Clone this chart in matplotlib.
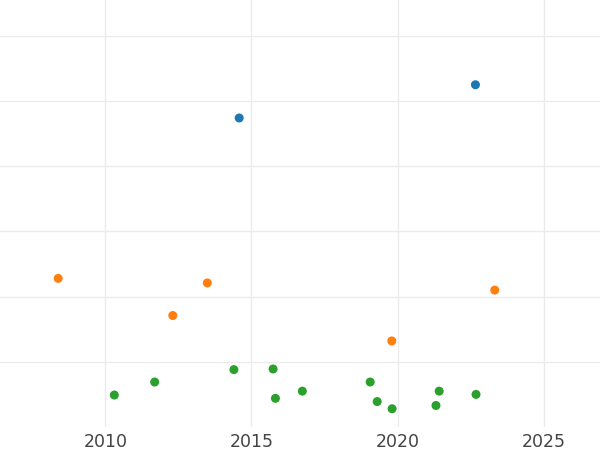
import matplotlib

matplotlib.use("Agg")
import matplotlib.pyplot as plt

# values (y has no labels, units = one gridline step)
blue_x = [2014.58, 2022.66]
blue_y = [4.74, 5.25]

orange_x = [2008.39, 2013.49, 2012.31, 2019.80, 2023.32]
orange_y = [2.28, 2.21, 1.71, 1.32, 2.10]

green_x = [2010.31, 2011.69, 2014.40, 2015.74, 2015.82, 2016.74,
           2019.06, 2019.30, 2019.81, 2021.31, 2021.42, 2022.68]
green_y = [0.49, 0.69, 0.88, 0.89, 0.44, 0.55,
           0.69, 0.39, 0.28, 0.33, 0.55, 0.50]

x_ticks = [2010, 2015, 2020, 2025]
y_ticks = [1, 2, 3, 4, 5, 6]

fig = plt.figure(figsize=(6, 4.5), dpi=100)
fig.patch.set_facecolor("white")
ax = fig.add_axes([0, 1 - 427 / 450, 1, 427 / 450])

for xs, ys, color in [(blue_x, blue_y, "#1f77b4"),
                      (orange_x, orange_y, "#ff7f0e"),
                      (green_x, green_y, "#2ca02c")]:
    ax.scatter(xs, ys, s=42, color=color, edgecolors="none", zorder=3)

ax.set_xlim(2006.40, 2026.92)
ax.set_ylim(0, 6.55)
ax.set_xticks(x_ticks)
ax.set_yticks(y_ticks)
ax.set_yticklabels([])
ax.tick_params(axis="both", length=0)
ax.tick_params(axis="x", labelsize=12.5, labelcolor="#444444", pad=4)
ax.grid(True, color="#ebebeb", linewidth=1.0)
ax.set_axisbelow(True)
for spine in ax.spines.values():
    spine.set_visible(False)

fig.savefig("out.png", dpi=100)
plt.close(fig)
